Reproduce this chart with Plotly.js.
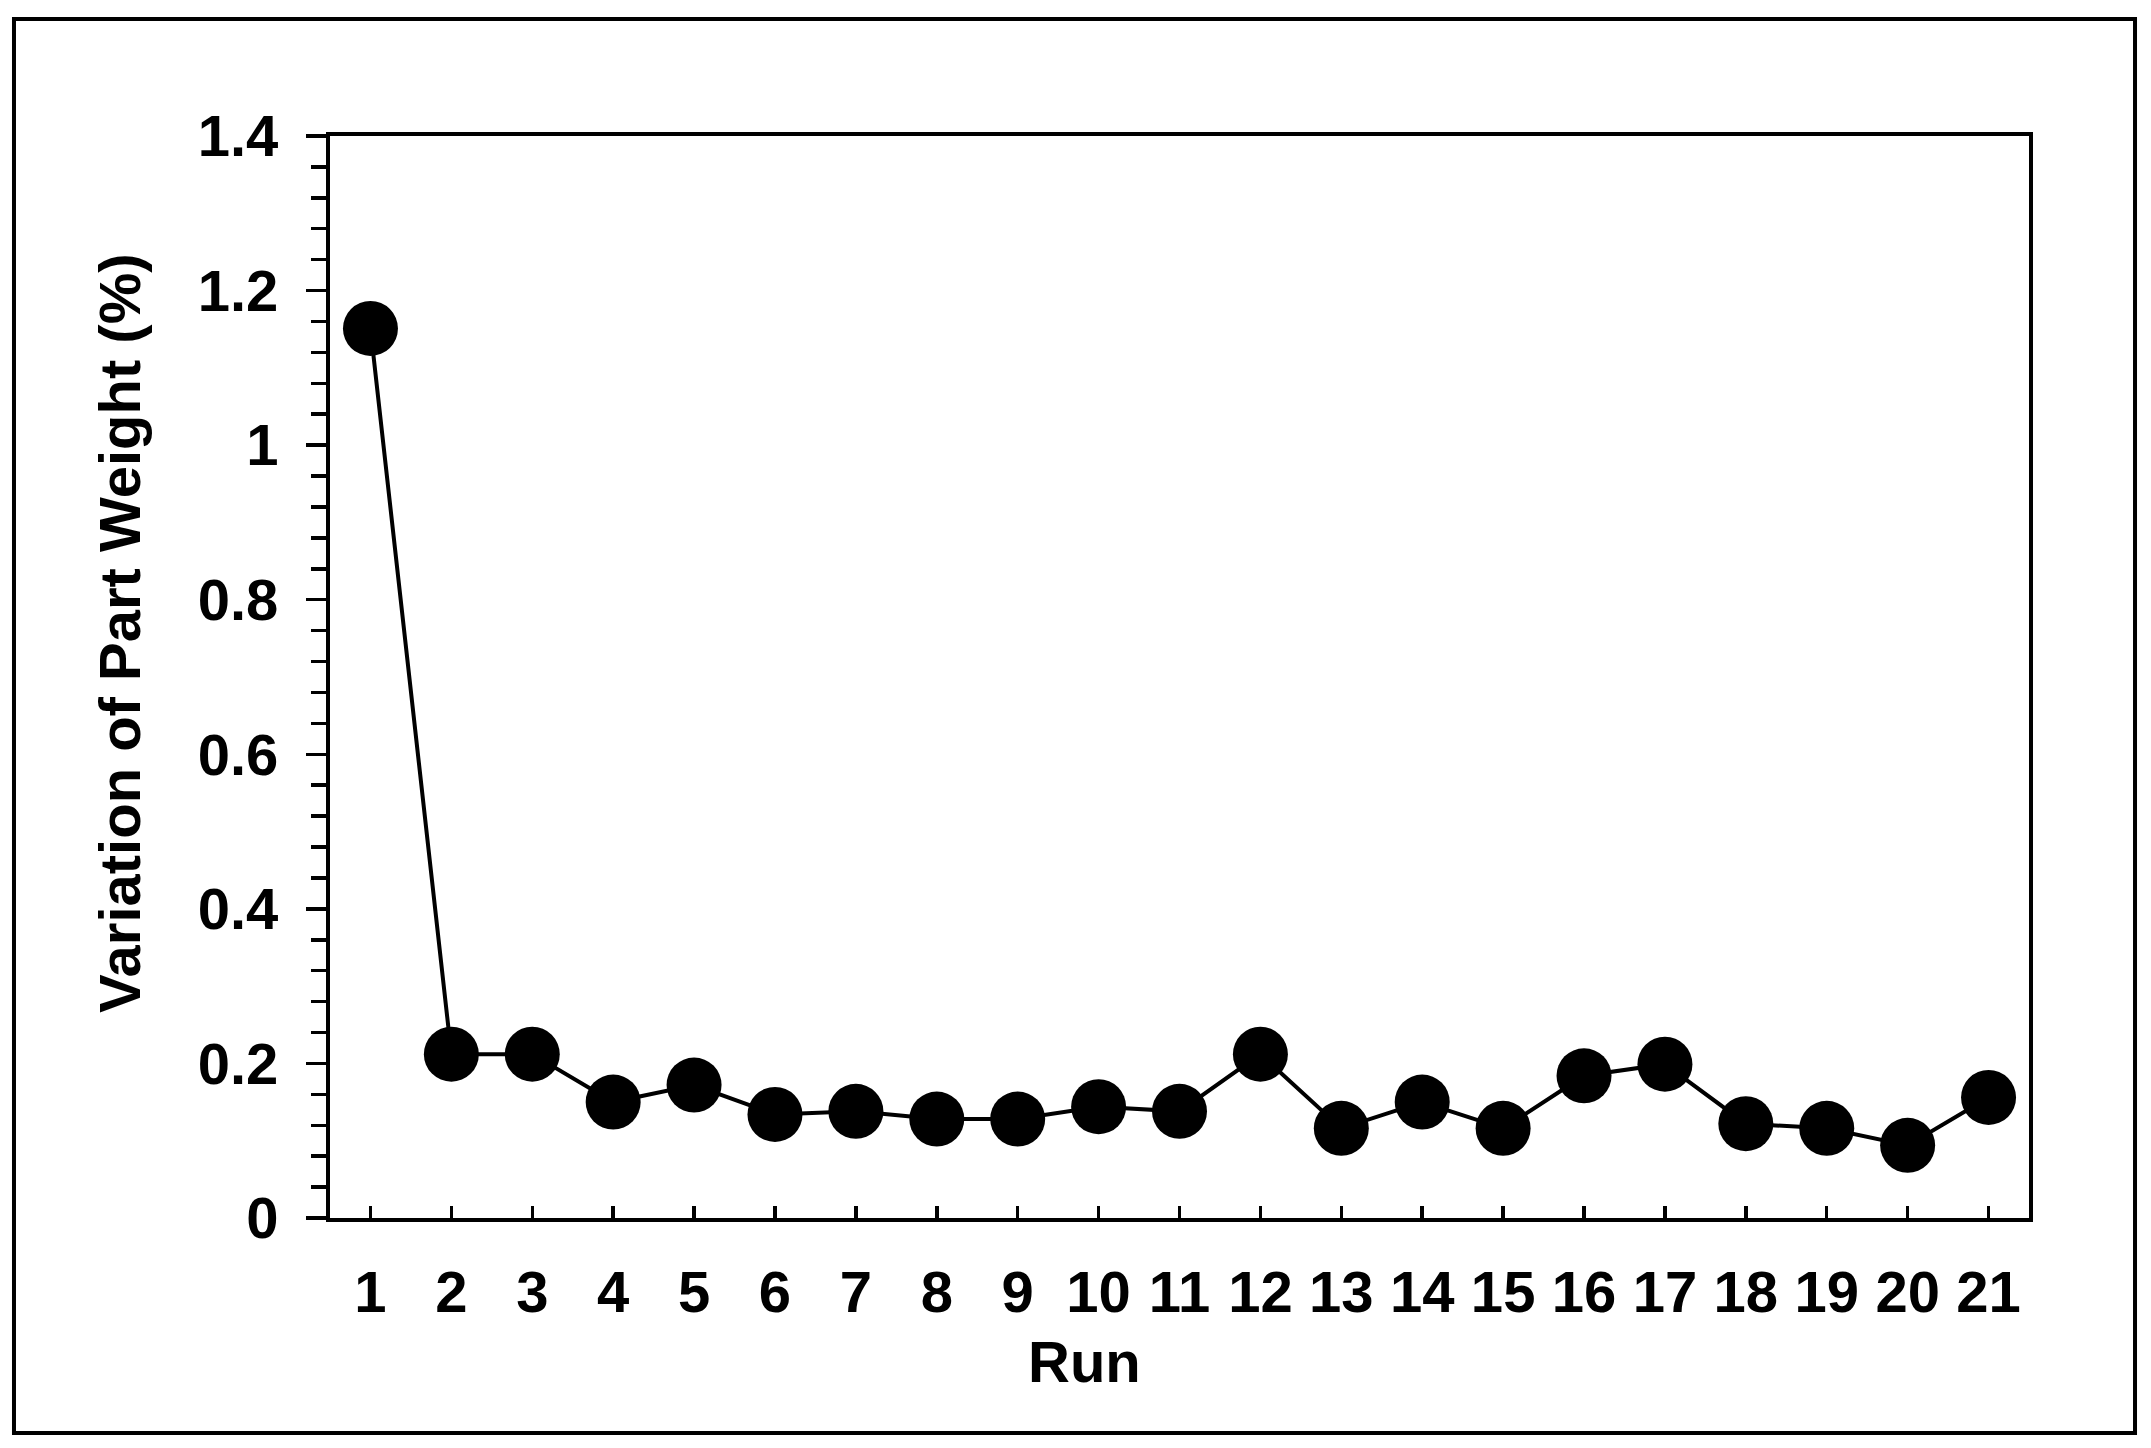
<!DOCTYPE html>
<html>
<head>
<meta charset="utf-8">
<script src="https://cdn.plot.ly/plotly-3.0.1.min.js"></script>
<style>
  html, body { margin: 0; padding: 0; background: #fff; }
  #chart { width: 2151px; height: 1448px; }
</style>
</head>
<body>
<div id="chart"></div>
<script>
  const runs = [1, 2, 3, 4, 5, 6, 7, 8, 9, 10, 11, 12, 13, 14, 15, 16, 17, 18, 19, 20, 21];
  const variation = [1.151, 0.212, 0.212, 0.150, 0.172, 0.134, 0.138, 0.128, 0.128, 0.144, 0.138,
                     0.212, 0.116, 0.150, 0.116, 0.184, 0.199, 0.122, 0.116, 0.094, 0.156];

  const font = { family: 'Liberation Sans, Arial, sans-serif', size: 58, color: '#000' };
  const boldFont = { ...font, weight: 'bold' };

  const trace = {
    x: runs,
    y: variation,
    type: 'scatter',
    mode: 'lines+markers',
    line: { color: '#000', width: 4 },
    marker: { color: '#000', size: 55 },
    hoverinfo: 'x+y',
    showlegend: false
  };

  const layout = {
    width: 2151,
    height: 1448,
    margin: { l: 330, r: 122, t: 136, b: 230 },
    paper_bgcolor: '#fff',
    plot_bgcolor: '#fff',
    font: boldFont,
    xaxis: {
      range: [0.5, 21.5],
      tickvals: runs,
      ticktext: runs.map(String),
      ticks: 'inside',
      ticklen: 12,
      tickwidth: 3.5,
      tickcolor: '#000',
      showline: true,
      linewidth: 4,
      linecolor: '#000',
      mirror: true,
      showgrid: false,
      zeroline: false,
      tickfont: boldFont,
      ticklabelstandoff: 20
    },
    yaxis: {
      range: [0, 1.4],
      dtick: 0.2,
      ticks: 'outside',
      ticklen: 20,
      tickwidth: 3.5,
      tickcolor: '#000',
      minor: { dtick: 0.04, ticks: 'outside', ticklen: 15, tickwidth: 3.5, tickcolor: '#000', showgrid: false },
      showline: true,
      linewidth: 4,
      linecolor: '#000',
      mirror: true,
      showgrid: false,
      zeroline: false,
      tickfont: boldFont,
      ticklabelstandoff: 16
    },
    annotations: [
      {
        text: 'Run', xref: 'paper', yref: 'paper', x: 0.4438, y: -0.1325,
        xanchor: 'center', yanchor: 'middle', showarrow: false, font: boldFont
      },
      {
        text: 'Variation of Part Weight (%)', xref: 'paper', yref: 'paper', x: -0.1235, y: 0.54,
        xanchor: 'center', yanchor: 'middle', textangle: -90, showarrow: false, font: boldFont
      }
    ],
    shapes: [
      {
        type: 'rect', xref: 'paper', yref: 'paper',
        x0: -0.186, x1: 1.0624, y0: -0.1987, y1: 1.1081,
        line: { color: '#000', width: 4 }
      }
    ]
  };

  Plotly.newPlot('chart', [trace], layout, { displayModeBar: false, staticPlot: true });
</script>
</body>
</html>
